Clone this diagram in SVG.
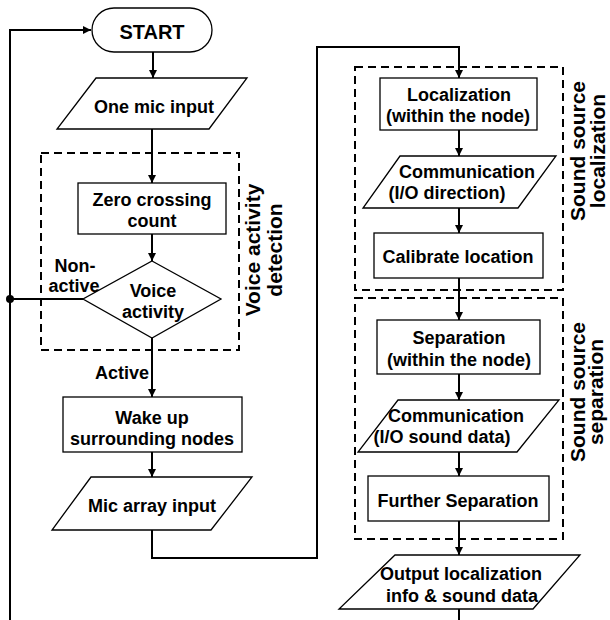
<svg xmlns="http://www.w3.org/2000/svg" width="610" height="620" viewBox="0 0 610 620">
<style>
text{font-family:"Liberation Sans",Arial,sans-serif;font-weight:bold;font-size:18px;fill:#000;text-anchor:middle}
.big{font-size:20px}
.lab{font-size:21px}
.node{fill:#fff;stroke:#000;stroke-width:1.3}
.group{fill:none;stroke:#000;stroke-width:2;stroke-dasharray:8,5}
.conn{fill:none;stroke:#000;stroke-width:2}
</style>
<defs>
<marker id="arr" viewBox="0 0 10 10" refX="10" refY="5" markerWidth="8" markerHeight="8" markerUnits="userSpaceOnUse" orient="auto">
<path d="M0,0 L10,5 L0,10 z" fill="#000"/>
</marker>
</defs>
<g id="groups">
<rect id="vad-group" class="group" x="41" y="153" width="198" height="197"/>
<rect id="ssl-group" class="group" x="355" y="67" width="208" height="223"/>
<rect id="sss-group" class="group" x="355" y="298" width="208" height="241"/>
<text class="lab" transform="translate(260,250) rotate(-90)">Voice activity</text>
<text class="lab" transform="translate(282,250) rotate(-90)">detection</text>
<text class="lab" transform="translate(585,151) rotate(-90)">Sound source</text>
<text class="lab" transform="translate(605,151) rotate(-90)">localization</text>
<text class="lab" transform="translate(585,392) rotate(-90)">Sound source</text>
<text class="lab" transform="translate(603,392) rotate(-90)">separation</text>
</g>
<g id="connectors">
<path class="conn" d="M10,620 V30 H91" marker-end="url(#arr)"/>
<path class="conn" d="M83,299 H10"/>
<circle cx="10" cy="299" r="4" fill="#000"/>
<path class="conn" d="M153,52 V78" marker-end="url(#arr)"/>
<path class="conn" d="M152,129 V183" marker-end="url(#arr)"/>
<path class="conn" d="M152,234 V261" marker-end="url(#arr)"/>
<path class="conn" d="M152,338 V397" marker-end="url(#arr)"/>
<path class="conn" d="M152,452 V477" marker-end="url(#arr)"/>
<path class="conn" d="M152,530 V558 H317 V47 H459 V78" marker-end="url(#arr)"/>
<path class="conn" d="M459,130 V156" marker-end="url(#arr)"/>
<path class="conn" d="M459,208 V233" marker-end="url(#arr)"/>
<path class="conn" d="M459,278 V320" marker-end="url(#arr)"/>
<path class="conn" d="M459,374 V400" marker-end="url(#arr)"/>
<path class="conn" d="M459,452 V476" marker-end="url(#arr)"/>
<path class="conn" d="M459,521 V555" marker-end="url(#arr)"/>
<path class="conn" d="M459,609 V620"/>
<text x="75" y="272">Non-</text>
<text x="74" y="292">active</text>
<text x="122" y="379">Active</text>
</g>
<g id="start">
<rect class="node" x="92" y="8" width="120" height="44" rx="22"/>
<text class="big" x="152" y="39">START</text>
</g>
<g id="one-mic">
<polygon class="node" points="96,78 247,78 209,129 57,129"/>
<text x="154" y="113">One mic input</text>
</g>
<g id="zero-crossing">
<rect class="node" x="78" y="183" width="148" height="51"/>
<text x="152" y="206">Zero crossing</text>
<text x="152" y="227">count</text>
</g>
<g id="voice-activity">
<polygon class="node" points="152,261 221,299 152,338 83,299"/>
<text x="153" y="297">Voice</text>
<text x="153" y="318">activity</text>
</g>
<g id="wake-up">
<rect class="node" x="63" y="397" width="179" height="55"/>
<text x="152" y="424">Wake up</text>
<text x="152" y="445">surrounding nodes</text>
</g>
<g id="mic-array">
<polygon class="node" points="91,477 252,477 211,530 52,530"/>
<text x="152" y="512">Mic array input</text>
</g>
<g id="localization">
<rect class="node" x="380" y="78" width="157" height="52"/>
<text x="459" y="101">Localization</text>
<text x="458" y="122">(within the node)</text>
</g>
<g id="comm-direction">
<polygon class="node" points="400,156 556,156 518,208 363,208"/>
<text x="467" y="178">Communication</text>
<text x="447" y="199">(I/O direction)</text>
</g>
<g id="calibrate">
<rect class="node" x="374" y="233" width="169" height="45"/>
<text x="458" y="263">Calibrate location</text>
</g>
<g id="separation">
<rect class="node" x="377" y="320" width="163" height="54"/>
<text x="459" y="344">Separation</text>
<text x="459" y="366">(within the node)</text>
</g>
<g id="comm-sound">
<polygon class="node" points="398,400 559,400 517,452 358,452"/>
<text x="456" y="422">Communication</text>
<text x="442" y="443">(I/O sound data)</text>
</g>
<g id="further-separation">
<rect class="node" x="368" y="476" width="181" height="45"/>
<text x="458" y="507">Further Separation</text>
</g>
<g id="output">
<polygon class="node" points="395,555 580,555 533,609 339,609"/>
<text x="461" y="580">Output localization</text>
<text x="462" y="602">info &amp; sound data</text>
</g>
</svg>
